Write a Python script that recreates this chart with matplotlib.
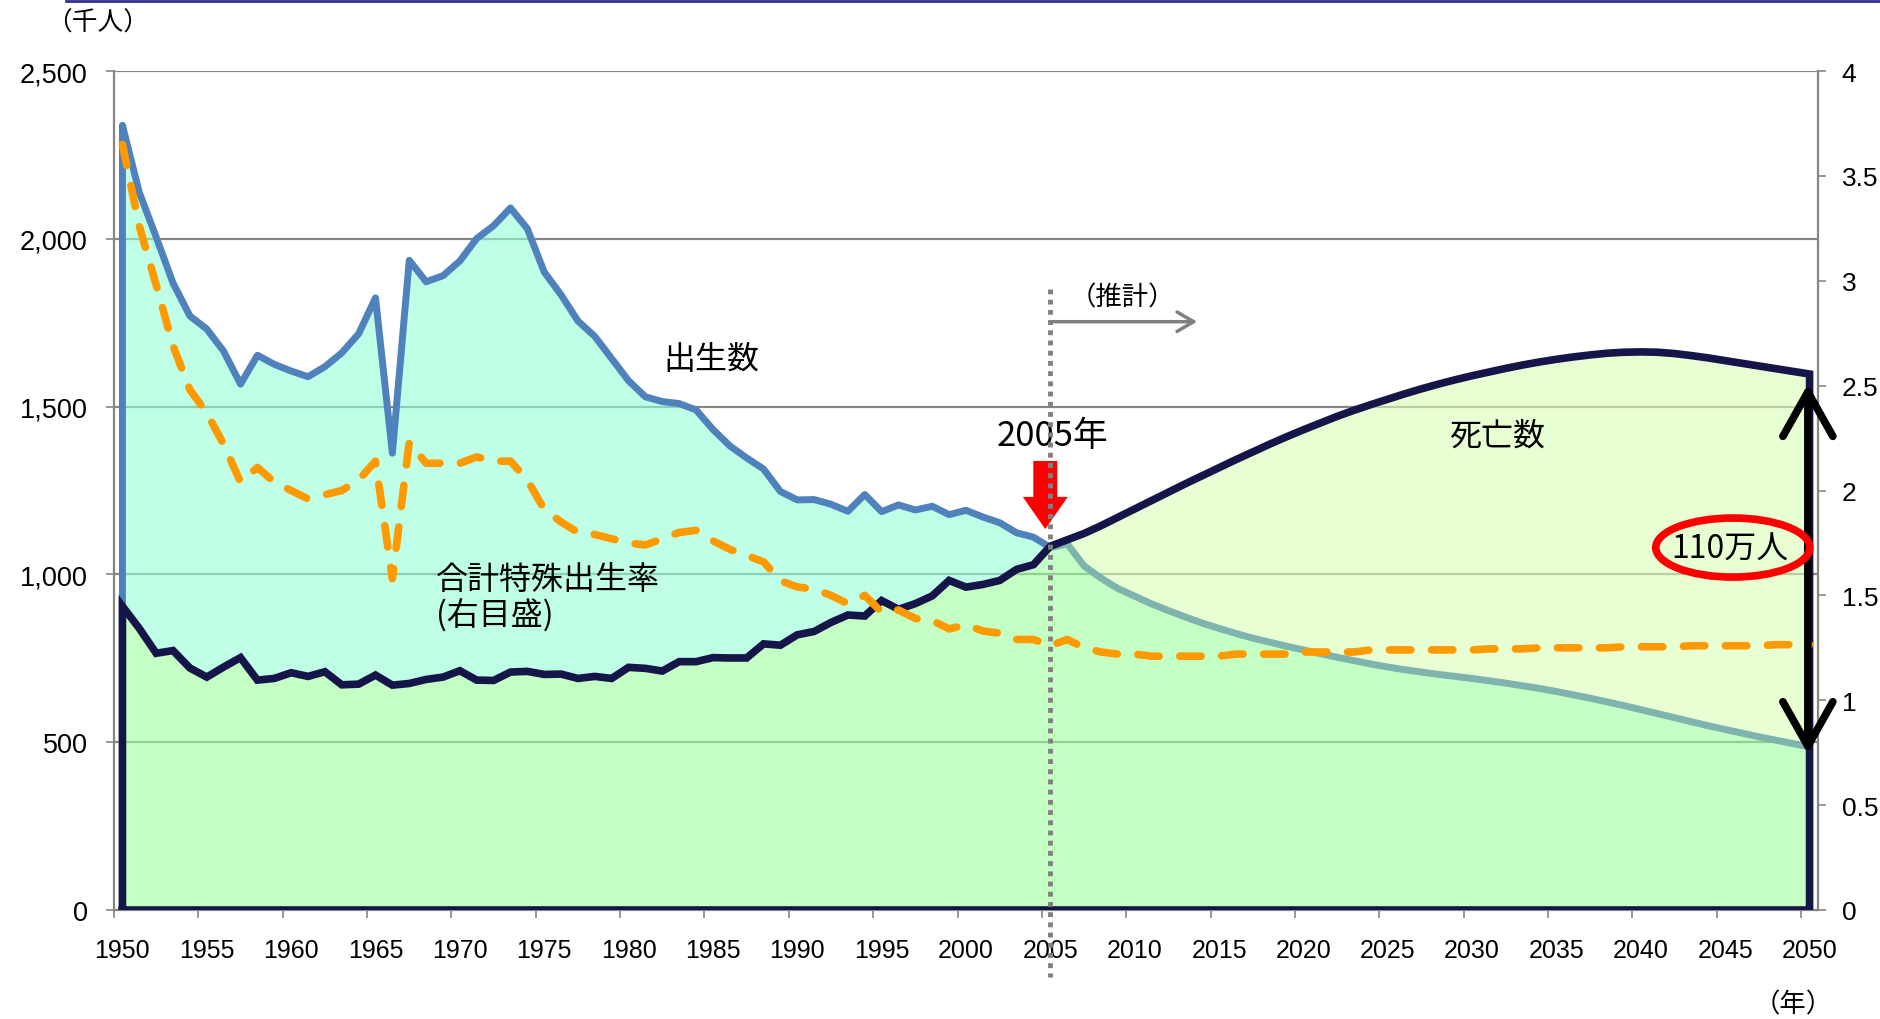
import numpy as np
import matplotlib
matplotlib.use("Agg")
import matplotlib.pyplot as plt
from matplotlib.patches import FancyArrow, Ellipse
from matplotlib.lines import Line2D
from matplotlib.ticker import FuncFormatter

plt.rcParams['font.family'] = ['Liberation Sans', 'Noto Sans CJK JP', 'DejaVu Sans']

# data (thousands of people / rate)
years = np.arange(1950, 2051)

births_actual = [2338, 2138, 2005, 1868, 1770, 1731, 1665, 1567, 1653, 1626,
                 1606, 1589, 1619, 1660, 1717, 1824, 1361, 1936, 1872, 1890,
                 1934, 2001, 2039, 2092, 2030, 1901, 1833, 1755, 1709, 1643,
                 1577, 1529, 1515, 1509, 1490, 1432, 1383, 1347, 1314, 1247,
                 1222, 1223, 1209, 1188, 1238, 1187, 1207, 1192, 1203, 1178,
                 1191, 1171, 1154, 1124, 1111, 1080]
births_proj = [1091, 1025, 989, 958, 935, 912, 892, 873, 855, 839,
               824, 810, 798, 786, 775, 764, 753, 743, 733, 724,
               716, 709, 702, 696, 690, 683, 676, 668, 660, 651,
               641, 631, 620, 609, 597, 585, 573, 561, 549, 538,
               527, 516, 506, 496, 486]

deaths_actual = [905, 839, 765, 773, 721, 694, 724, 752, 685, 690,
                 707, 696, 710, 671, 673, 700, 670, 675, 687, 694,
                 713, 685, 684, 709, 711, 702, 703, 690, 696, 690,
                 723, 720, 712, 740, 740, 752, 751, 751, 793, 789,
                 820, 830, 857, 879, 876, 922, 896, 913, 936, 982,
                 962, 970, 982, 1015, 1029, 1084]
deaths_proj = [1103, 1122, 1145, 1170, 1195, 1220, 1245, 1270, 1294, 1318,
               1342, 1365, 1388, 1410, 1431, 1451, 1471, 1489, 1506, 1522,
               1538, 1553, 1567, 1580, 1592, 1603, 1614, 1624, 1633, 1641,
               1648, 1654, 1659, 1662, 1663, 1662, 1658, 1652, 1645, 1637,
               1629, 1621, 1613, 1605, 1597]

tfr_actual = [3.65, 3.26, 2.98, 2.69, 2.48, 2.37, 2.22, 2.04, 2.11, 2.04,
              2.00, 1.96, 1.98, 2.00, 2.05, 2.14, 1.58, 2.23, 2.13, 2.13,
              2.13, 2.16, 2.14, 2.14, 2.05, 1.91, 1.85, 1.80, 1.79, 1.77,
              1.75, 1.74, 1.77, 1.80, 1.81, 1.76, 1.72, 1.69, 1.66, 1.57,
              1.54, 1.53, 1.50, 1.46, 1.50, 1.42, 1.43, 1.39, 1.38, 1.34,
              1.36, 1.33, 1.32, 1.29, 1.29, 1.26]
tfr_proj = [1.29, 1.25, 1.23, 1.22, 1.22, 1.21, 1.21, 1.21, 1.21, 1.21,
            1.22, 1.22, 1.22, 1.22, 1.23, 1.23, 1.23, 1.23, 1.24, 1.24,
            1.24, 1.24, 1.24, 1.24, 1.24, 1.245, 1.245, 1.245, 1.25, 1.25,
            1.25, 1.25, 1.25, 1.255, 1.255, 1.255, 1.255, 1.26, 1.26, 1.26,
            1.26, 1.26, 1.265, 1.265, 1.265]

left_ticks = [0, 500, 1000, 1500, 2000, 2500]
right_ticks = [0, 0.5, 1, 1.5, 2, 2.5, 3, 3.5, 4]
year_labels = list(range(1950, 2051, 5))

births = np.array(births_actual + births_proj, dtype=float)
deaths = np.array(deaths_actual + deaths_proj, dtype=float)
tfr = np.array(tfr_actual + tfr_proj, dtype=float)
n_act = len(births_actual)

fig = plt.figure(figsize=(18.81, 10.20), dpi=100)
ax = fig.add_axes([114 / 1881, 1 - 911 / 1020, (1818 - 114) / 1881, (911 - 72) / 1020])
ax2 = ax.twinx()

grid_c = '#868686'
# area fills (semi transparent so gridlines show through)
low = np.minimum(births, deaths)
ax.fill_between(years, 0, low, color='#9DFF9D', alpha=0.6, lw=0, zorder=1)
ax.fill_between(years, deaths, births, where=births >= deaths, interpolate=True,
                color='#93FFD5', alpha=0.6, lw=0, zorder=1)
ax.fill_between(years, births, deaths, where=deaths >= births, interpolate=True,
                color='#D9FFB7', alpha=0.6, lw=0, zorder=1)
for v in left_ticks[1:]:
    ax.axhline(v, color=grid_c, lw=1.6, zorder=0.5)

# births line
ax.plot(np.r_[years[0], years[:n_act]], np.r_[0, births[:n_act]],
        color='#4F81BD', lw=5, solid_joinstyle='round', solid_capstyle='round', zorder=2)
ax.plot(years[n_act - 1:], births[n_act - 1:], color='#7FB3AD', lw=5,
        solid_joinstyle='round', zorder=2)
# deaths outline
ax.plot(np.r_[years[0], years, years[-1], years[0]], np.r_[0, deaths, 0, 0],
        color='#16154A', lw=5.5, solid_joinstyle='miter', zorder=3)

# TFR on right axis
ax2.plot(years, tfr, color='#FF9900', lw=5.5, linestyle=(0, (2.8, 2.7)),
         dash_capstyle='round', dash_joinstyle='round', zorder=3)

# axes setup
ax.set_xlim(1949.5, 2050.5)
ax.set_ylim(0, 2500)
ax2.set_ylim(0, 4)
ax.set_yticks(left_ticks)
ax.yaxis.set_major_formatter(FuncFormatter(lambda v, p: f'{int(v):,}'))
ax2.set_yticks(right_ticks)
ax2.set_yticklabels(['0', '0.5', '1', '1.5', '2', '2.5', '3', '3.5', '4'])
ax.set_xticks(year_labels)
ax.set_xticks([y - 0.5 for y in year_labels], minor=True)
ax.tick_params(axis='x', which='major', length=0, pad=20, labelsize=18)
ax.tick_params(axis='x', which='minor', length=6, width=1.2, color=grid_c)
ax.tick_params(axis='y', length=6, width=1.2, color=grid_c, pad=13, labelsize=19.5)
ax2.tick_params(axis='y', length=6, width=1.2, color=grid_c, pad=11, labelsize=19)
for a in (ax, ax2):
    a.spines['top'].set_visible(False)
    for s in ('left', 'right', 'bottom'):
        a.spines[s].set_color(grid_c)
        a.spines[s].set_linewidth(1.6)
ax2.spines['left'].set_visible(False)
ax2.spines['bottom'].set_visible(False)
ax.spines['right'].set_visible(False)

cjk = dict(family=['Noto Sans CJK JP', 'DejaVu Sans'], color='black')

# 2005 marker
ax2.plot([2005, 2005], [1850, -200], transform=ax.transData, clip_on=False,
         color='#808080', lw=3.5, linestyle=(0, (1, 1.1)), zorder=5)
ax.add_patch(FancyArrow(2004.7, 1338, 0, -203, width=1.42, head_width=2.67,
                        head_length=96, length_includes_head=True,
                        color='#FF0000', lw=0, zorder=6))
ax.text(2005.1, 1413, '2005年', fontsize=25, ha='center', va='center', zorder=6, **cjk)
ax.annotate('', xy=(2013.7, 1753), xytext=(2005, 1753),
            arrowprops=dict(arrowstyle='->,head_length=0.6,head_width=0.35',
                            color='#808080', lw=2.5, mutation_scale=20,
                            shrinkA=0, shrinkB=0))
ax.text(2009.3, 1826, '（推計）', fontsize=19, ha='center', va='center', **cjk)

ax.text(1984.9, 1642, '出生数', fontsize=23, ha='center', va='center', **cjk)
ax.text(2031.5, 1413, '死亡数', fontsize=23, ha='center', va='center', **cjk)
ax.text(1968.6, 987, '合計特殊出生率', fontsize=23, ha='left', va='center', **cjk)
ax.text(1968.6, 878, '(右目盛)', fontsize=23, ha='left', va='center', **cjk)

# 2050 gap annotation
ax2.annotate('', xy=(2049.9, 1567), xytext=(2049.9, 465),
             xycoords=ax.transData, textcoords=ax.transData,
             arrowprops=dict(arrowstyle='<->,head_length=1.6,head_width=0.9',
                             color='black', lw=5.5, mutation_scale=20,
                             shrinkA=0, shrinkB=0, capstyle='round', joinstyle='round'),
             zorder=6)
ax2.add_patch(Ellipse((2045.45, 1080), 9.13, 176, fill=False, edgecolor='#FF0000',
                      lw=5.5, transform=ax.transData, zorder=6))
ax2.text(2045.3, 1076, '110万人', fontsize=23, ha='center', va='center',
         transform=ax.transData, zorder=7, **cjk)

ax2.set_ylim(0, 4)
ax.set_xlim(1949.5, 2050.5)

fig.text(98 / 1881, 1 - 24 / 1020, '（千人）', fontsize=18.5, ha='center', va='center', **cjk)
fig.text(1793 / 1881, 1 - 1005 / 1020, '（年）', fontsize=19, ha='center', va='center', **cjk)
fig.add_artist(Line2D([66 / 1881, 1], [0.9985, 0.9985], color='#2E3192', lw=2))

fig.savefig('out.png', dpi=100)
